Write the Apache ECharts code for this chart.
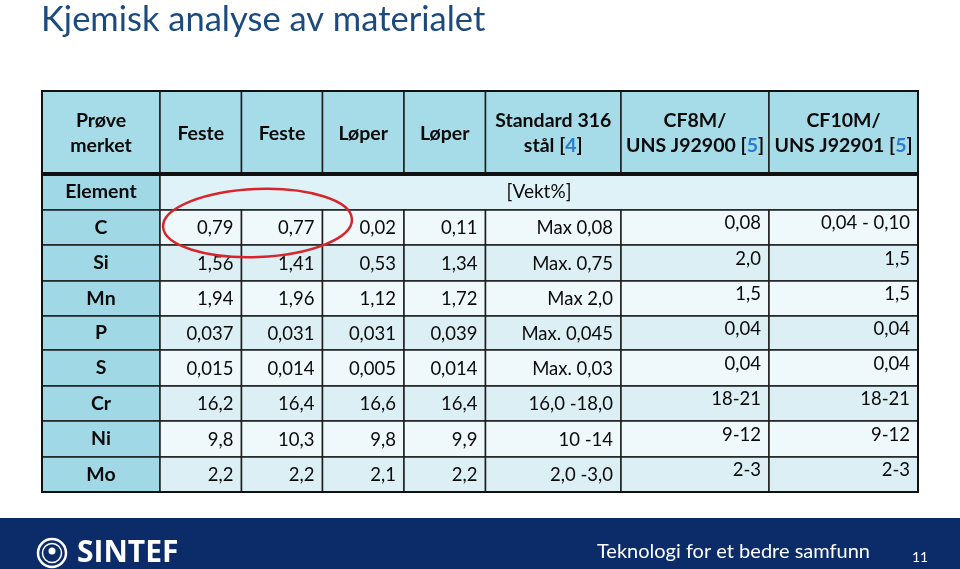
<!DOCTYPE html>
<html><head><meta charset="utf-8">
<script src="https://cdn.jsdelivr.net/npm/echarts@6/dist/echarts.min.js"></script>
<style>html,body{margin:0;padding:0;background:#fff}#c{width:960px;height:569px}</style>
</head><body><div id="c"></div>
<script>
// ---- data ----
const titleText = 'Kjemisk analyse av materialet';
const headers = ['Prøve\nmerket', 'Feste', 'Feste', 'Løper', 'Løper', 'Standard 316\nstål [{l|4}]', 'CF8M/\nUNS J92900 [{l|5}]', 'CF10M/\nUNS J92901 [{l|5}]'];
const elementLabel = 'Element';
const unitLabel = '[Vekt%]';
const elements = ['C', 'Si', 'Mn', 'P', 'S', 'Cr', 'Ni', 'Mo'];
const feste1 = ['0,79', '1,56', '1,94', '0,037', '0,015', '16,2', '9,8', '2,2'];
const feste2 = ['0,77', '1,41', '1,96', '0,031', '0,014', '16,4', '10,3', '2,2'];
const loper1 = ['0,02', '0,53', '1,12', '0,031', '0,005', '16,6', '9,8', '2,1'];
const loper2 = ['0,11', '1,34', '1,72', '0,039', '0,014', '16,4', '9,9', '2,2'];
const std316 = ['Max 0,08', 'Max. 0,75', 'Max 2,0', 'Max. 0,045', 'Max. 0,03', '16,0 -18,0', '10 -14', '2,0 -3,0'];
const cf8m = ['0,08', '2,0', '1,5', '0,04', '0,04', '18-21', '9-12', '2-3'];
const cf10m = ['0,04 - 0,10', '1,5', '1,5', '0,04', '0,04', '18-21', '9-12', '2-3'];
const footerText = 'Teknologi for et bedre samfunn';
const pageNo = '11';

// ---- layout (table units) ----
const colEdges = [0, 118, 199.5, 280.5, 362, 443.5, 579, 727, 876];
const rowEdges = [0, 83, 119, 154, 190, 225, 259, 295, 330, 366, 401];

const valueCols = [feste1, feste2, loper1, loper2, std316, cf8m, cf10m];
const cells = [];
headers.forEach((h, c) => cells.push({c0: c, c1: c + 1, r0: 0, r1: 1, text: h, kind: 'head'}));
cells.push({c0: 0, c1: 1, r0: 1, r1: 2, text: elementLabel, kind: 'first'});
cells.push({c0: 1, c1: 8, r0: 1, r1: 2, text: unitLabel, kind: 'unit'});
elements.forEach((el, r) => {
  cells.push({c0: 0, c1: 1, r0: r + 2, r1: r + 3, text: el, kind: 'first'});
  valueCols.forEach((arr, k) => {
    cells.push({c0: k + 1, c1: k + 2, r0: r + 2, r1: r + 3, text: arr[r], kind: k >= 5 ? 'valHi' : 'val', alt: r % 2});
  });
});
const seriesData = cells.map(c => [colEdges[c.c0], rowEdges[c.r0], colEdges[c.c1], rowEdges[c.r1]]);

const FONT = 'Lato, "Noto Sans", sans-serif';
const headFill = '#a6dbe8';
const firstFill = '#a0d8e6';
const rowFills = ['#eff8fb', '#dbeff5'];

function renderCell(params, api) {
  const cell = cells[params.dataIndex];
  const p0 = api.coord([api.value(0), api.value(1)]);
  const p1 = api.coord([api.value(2), api.value(3)]);
  const w = p1[0] - p0[0], h = p1[1] - p0[1];
  let fill = '#fff';
  if (cell.kind === 'head') fill = headFill;
  else if (cell.kind === 'first') fill = firstFill;
  else if (cell.kind === 'unit') fill = '#dff2f8';
  else fill = rowFills[cell.alt];
  const children = [{
    type: 'rect', shape: {x: p0[0], y: p0[1], width: w, height: h},
    style: {fill: fill, stroke: '#1e1e1e', lineWidth: 1.5}
  }];
  const cy = (p0[1] + p1[1]) / 2;
  if (cell.kind === 'head' || cell.kind === 'first') {
    children.push({
      type: 'text', z2: 5,
      style: {
        text: cell.text, x: (p0[0] + p1[0]) / 2, y: cy + (cell.kind === 'head' ? 1 : 0),
        align: 'center', verticalAlign: 'middle',
        font: 'bold 19.5px ' + FONT, fill: '#0a0a0a', lineHeight: 25,
        rich: {l: {fill: '#2b7bd0', font: 'bold 19.5px ' + FONT}}
      }
    });
  } else if (cell.kind === 'unit') {
    children.push({
      type: 'text', z2: 5,
      style: {text: cell.text, x: (p0[0] + p1[0]) / 2, y: cy, align: 'center', verticalAlign: 'middle',
        font: '19px ' + FONT, fill: '#0a0a0a'}
    });
  } else {
    children.push({
      type: 'text', z2: 5,
      style: {text: cell.text, x: p1[0] - 8, y: cy + (cell.kind === 'valHi' ? -4 : 1), align: 'right', verticalAlign: 'middle',
        font: '18.5px ' + FONT, fill: '#0a0a0a'}
    });
  }
  if (cell.kind === 'head') {
    children.push({type: 'line', z2: 8, shape: {x1: p0[0] - 1, y1: p1[1], x2: p1[0] + 1, y2: p1[1]},
      style: {stroke: '#111', lineWidth: 4}});
  }
  return {type: 'group', children: children};
}

const chart = echarts.init(document.getElementById('c'), null, {renderer: 'canvas'});
const option = {
  animation: false,
  backgroundColor: '#ffffff',
  title: {
    text: titleText, left: 36, top: -3,
    textStyle: {fontFamily: 'Lato', fontSize: 34.5, fontWeight: 'normal', color: '#1b4a7e'}
  },
  grid: {left: 42, top: 91, width: 876, height: 401},
  xAxis: {type: 'value', min: 0, max: 876, show: false},
  yAxis: {type: 'value', min: 0, max: 401, inverse: true, show: false},
  series: [
    {type: 'custom', renderItem: renderCell, data: seriesData, clip: false, silent: true},
    {type: 'custom', clip: false, silent: true, z: 3,
      data: [[colEdges[0], rowEdges[0], colEdges[colEdges.length - 1], rowEdges[rowEdges.length - 1]]],
      renderItem: function (params, api) {
        const p0 = api.coord([api.value(0), api.value(1)]);
        const p1 = api.coord([api.value(2), api.value(3)]);
        return {type: 'rect', shape: {x: p0[0], y: p0[1], width: p1[0] - p0[0], height: p1[1] - p0[1]},
          style: {fill: 'none', stroke: '#111', lineWidth: 2}};
      }}
  ],
  graphic: [
    {type: 'ellipse', z: 100, shape: {cx: 257.5, cy: 223, rx: 94.5, ry: 34}, rotation: 0.04,
      originX: 257.5, originY: 223, style: {fill: 'none', stroke: '#d7262b', lineWidth: 2.5}},
    {type: 'rect', z: 1, shape: {x: 0, y: 518, width: 960, height: 51}, style: {fill: '#0b2c69'}},
    {type: 'circle', z: 2, shape: {cx: 52, cy: 553, r: 14}, style: {fill: 'none', stroke: '#fff', lineWidth: 2.5}},
    {type: 'circle', z: 2, shape: {cx: 52, cy: 553, r: 9.5}, style: {fill: 'none', stroke: '#fff', lineWidth: 1.5}},
    {type: 'circle', z: 2, shape: {cx: 52, cy: 551, r: 3.5}, style: {fill: '#fff'}},
    {type: 'text', z: 2, style: {text: 'SINTEF', x: 77, y: 553, verticalAlign: 'middle', align: 'left',
      font: 'bold 30px "Open Sans", sans-serif', fill: '#fff'}},
    {type: 'text', z: 2, style: {text: footerText, x: 597, y: 552, verticalAlign: 'middle', align: 'left',
      font: '20px Lato, sans-serif', fill: '#fff'}},
    {type: 'text', z: 2, style: {text: pageNo, x: 912, y: 557, verticalAlign: 'middle', align: 'left',
      font: '14px Lato, sans-serif', fill: '#fff'}}
  ]
};
chart.setOption(option);
</script>
</body></html>
